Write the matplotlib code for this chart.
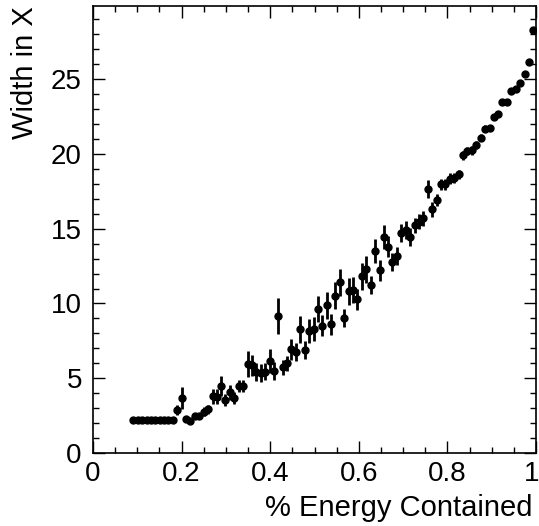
import numpy as np
import matplotlib
matplotlib.use("Agg")
import matplotlib.pyplot as plt
import matplotlib.transforms as mtransforms
from matplotlib.ticker import MultipleLocator

plt.rcParams['font.family'] = ['Liberation Sans', 'DejaVu Sans']

# fraction of energy contained (bin centres)
energy_frac = [0.091, 0.101, 0.111, 0.121, 0.131, 0.141, 0.151, 0.160, 0.170, 0.180,
               0.190, 0.200, 0.210, 0.220, 0.230, 0.240, 0.250, 0.260, 0.270, 0.279,
               0.289, 0.299, 0.309, 0.319, 0.329, 0.339, 0.349, 0.359, 0.369, 0.379,
               0.389, 0.399, 0.408, 0.418, 0.428, 0.438, 0.448, 0.458, 0.468, 0.478,
               0.488, 0.498, 0.508, 0.518, 0.528, 0.537, 0.547, 0.557, 0.567, 0.577,
               0.587, 0.597, 0.607, 0.617, 0.627, 0.637, 0.647, 0.656, 0.666, 0.676,
               0.686, 0.696, 0.706, 0.716, 0.726, 0.736, 0.746, 0.756, 0.766, 0.776,
               0.785, 0.795, 0.805, 0.815, 0.825, 0.835, 0.845, 0.855, 0.865, 0.875,
               0.885, 0.895, 0.904, 0.914, 0.924, 0.934, 0.944, 0.954, 0.964, 0.974,
               0.984, 0.994]

# mean width in X
width_x = [2.2, 2.2, 2.2, 2.2, 2.2, 2.2, 2.2, 2.2, 2.2, 2.2,
           2.87, 3.66, 2.25, 2.16, 2.5, 2.5, 2.76, 2.94, 3.81, 3.76,
           4.48, 3.54, 4.06, 3.66, 4.48, 4.48, 5.95, 5.86, 5.41, 5.35,
           5.45, 6.17, 5.49, 9.18, 5.73, 6.0, 6.93, 6.77, 8.27, 6.88,
           8.18, 8.27, 9.63, 8.51, 9.89, 8.6, 10.51, 11.41, 9.04, 10.83,
           10.9, 10.29, 11.81, 12.28, 11.23, 13.52, 12.23, 14.42, 13.79, 12.79,
           13.17, 14.69, 14.91, 14.46, 15.24, 15.46, 15.69, 17.69, 16.31, 16.91,
           17.96, 17.96, 18.36, 18.4, 18.63, 19.92, 20.2, 20.25, 20.59, 21.1,
           21.7, 21.77, 22.48, 22.7, 23.48, 23.48, 24.22, 24.38, 24.75, 25.38,
           26.16, 28.28]

# error on the width
width_err = [0, 0, 0, 0, 0, 0, 0, 0, 0, 0,
             0.35, 0.75, 0.15, 0.1, 0.2, 0.2, 0.3, 0.3, 0.5, 0.5,
             0.7, 0.4, 0.5, 0.4, 0.4, 0.4, 0.9, 0.7, 0.6, 0.6,
             0.6, 0.8, 0.6, 1.2, 0.5, 0.5, 0.7, 0.6, 0.9, 0.6,
             0.8, 0.8, 0.9, 0.7, 0.9, 0.7, 0.9, 0.9, 0.6, 0.9,
             0.9, 0.7, 0.9, 0.9, 0.6, 0.8, 0.7, 0.8, 0.7, 0.6,
             0.6, 0.6, 0.6, 0.6, 0.5, 0.5, 0.5, 0.6, 0.5, 0.4,
             0.4, 0.4, 0.35, 0.35, 0.3, 0.3, 0.3, 0.3, 0.25, 0.25,
             0.25, 0.2, 0.2, 0.15, 0.15, 0.15, 0.1, 0.1, 0.1, 0.1,
             0.05, 0.05]

x_ticks = [0, 0.2, 0.4, 0.6, 0.8, 1.0]
x_tick_labels = ['0', '0.2', '0.4', '0.6', '0.8', '1']

fig = plt.figure(figsize=(5.39, 5.26), dpi=100)
ax = fig.add_axes([0.1725, 0.1388, 0.822, 0.8498])

ax.errorbar(energy_frac, width_x, yerr=width_err, fmt='o', color='black',
            markersize=5, elinewidth=2.0, capsize=0)

ax.set_xlim(0, 1)
ax.set_ylim(0, 29.9)

ax.set_xticks(x_ticks)
ax.set_xticklabels(x_tick_labels)
ax.xaxis.set_minor_locator(MultipleLocator(0.05))
ax.yaxis.set_major_locator(MultipleLocator(5))
ax.yaxis.set_minor_locator(MultipleLocator(1))

ax.tick_params(which='both', direction='in', top=True, right=True,
               labelsize=20, width=1.0)
ax.tick_params(which='major', length=8.5)
ax.tick_params(which='minor', length=4.3)
ax.tick_params(axis='x', pad=6)
ax.tick_params(axis='y', pad=8)
for s in ax.spines.values():
    s.set_linewidth(1.2)

# nudge the "1" so it stays inside the canvas
last = ax.get_xticklabels()[-1]
last.set_transform(last.get_transform() +
                   mtransforms.ScaledTranslation(-3 / 72, 0, fig.dpi_scale_trans))

ax.set_xlabel('% Energy Contained', fontsize=21, loc='right')
ax.xaxis.set_label_coords(0.993, -0.122)
ax.xaxis.label.set_va('center')
ax.set_ylabel('Width in X', fontsize=21, loc='top')
ax.yaxis.set_label_coords(-0.153, 1.0)
ax.yaxis.label.set_va('center')

fig.savefig('out.png', dpi=100)
